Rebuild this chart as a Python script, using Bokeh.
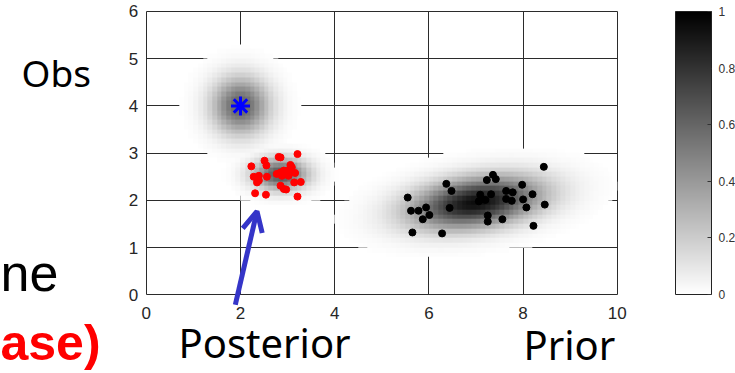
import numpy as np
from bokeh.plotting import figure
from bokeh.models import (LinearColorMapper, ColorBar, Label, Arrow, OpenHead,
                          FixedTicker, Range1d, LinearAxis, Grid)
from bokeh.palettes import Greys256
from bokeh.embed import file_html
from bokeh.resources import INLINE

# ---------------- data ----------------
x_ticks = [0, 2, 4, 6, 8, 10]
y_ticks = [0, 1, 2, 3, 4, 5, 6]
cbar_ticks = [0, 0.2, 0.4, 0.6, 0.8, 1]

obs_x = [2.0]
obs_y = [4.0]

post_x = [3.21, 2.23, 2.51, 2.55, 2.81, 2.85, 3.06, 3.09, 2.28, 2.39, 2.35, 2.56,
          2.77, 2.85, 2.92, 2.99, 3.02, 3.16, 3.14, 3.28, 2.85, 2.92, 2.97, 2.31,
          2.54, 3.21, 3.02, 2.39, 2.88]
post_y = [2.98, 2.72, 2.84, 2.74, 2.92, 2.91, 2.75, 2.70, 2.50, 2.52, 2.38, 2.50,
          2.56, 2.59, 2.63, 2.56, 2.52, 2.58, 2.38, 2.39, 2.31, 2.24, 2.23, 2.15,
          2.12, 2.08, 2.64, 2.42, 2.52]

prior_x = [8.44, 5.55, 5.62, 5.78, 5.87, 5.94, 6.01, 5.65, 6.28, 6.37, 6.48, 6.44,
           7.09, 7.06, 7.13, 7.20, 7.32, 7.23, 7.36, 7.42, 7.25, 7.25, 7.56, 7.64,
           7.64, 7.78, 7.76, 7.98, 8.00, 8.07, 8.20, 8.46, 8.22]
prior_y = [2.71, 2.06, 1.78, 1.78, 1.60, 1.85, 1.69, 1.32, 1.30, 2.35, 2.20, 1.84,
           2.12, 1.98, 2.03, 2.01, 2.13, 2.43, 2.54, 2.45, 1.68, 1.55, 1.60, 2.20,
           2.03, 2.17, 1.99, 2.33, 2.02, 1.85, 2.13, 1.91, 1.46]

# density blobs (obs, posterior, prior)
blob_cx = [2.0, 2.85, 7.0]
blob_cy = [4.0, 2.55, 1.95]
blob_sa = [0.42, 0.40, 0.95]
blob_sb = [0.42, 0.23, 0.355]
blob_ang = [0.0, 0.0, 8.0]
blob_peak = [0.62, 0.68, 0.95]
threshold = 0.0067

arrow_start = (1.89, -0.21)
arrow_end = (2.35, 1.77)

# ---------------- density image ----------------
step = 0.1
xs = (np.arange(100) + 0.5) * step
ys = (np.arange(60) + 0.5) * step
X, Y = np.meshgrid(xs, ys)
Z = np.zeros_like(X)
for cx, cy, sa, sb, ang, pk in zip(blob_cx, blob_cy, blob_sa, blob_sb, blob_ang, blob_peak):
    t = np.deg2rad(ang)
    dx, dy = X - cx, Y - cy
    u = dx * np.cos(t) + dy * np.sin(t)
    v = -dx * np.sin(t) + dy * np.cos(t)
    Z = np.maximum(Z, pk * np.exp(-0.5 * (u ** 2 / sa ** 2 + v ** 2 / sb ** 2)))
Z[Z < threshold] = np.nan

palette = list(reversed(Greys256))
mapper = LinearColorMapper(palette=palette, low=0, high=1, nan_color=(0, 0, 0, 0))

# ---------------- figure (frame covers the whole canvas) ----------------
W, H = 735, 373
x0_px, px_per_x = 145.8, 47.1
y0_px, px_per_y = 294.3, 47.22
p = figure(width=W, height=H,
           x_range=Range1d(-x0_px / px_per_x, (W - x0_px) / px_per_x),
           y_range=Range1d((y0_px - H) / px_per_y, y0_px / px_per_y),
           output_backend="svg", toolbar_location=None,
           x_axis_location=None, y_axis_location=None, min_border=0)
p.background_fill_color = "white"
p.border_fill_color = "white"
p.outline_line_color = None
p.grid.visible = False

# grid + box
grid_kw = dict(grid_line_color="#2b2b2b", grid_line_alpha=1, grid_line_width=1)
try:
    gx = Grid(dimension=0, ticker=FixedTicker(ticks=x_ticks), bounds=(0, 10),
              cross_bounds=(0, 6), **grid_kw)
    gy = Grid(dimension=1, ticker=FixedTicker(ticks=y_ticks), bounds=(0, 6),
              cross_bounds=(0, 10), **grid_kw)
    p.add_layout(gx)
    p.add_layout(gy)
except Exception:
    p.segment(x0=x_ticks, y0=[0] * len(x_ticks), x1=x_ticks, y1=[6] * len(x_ticks),
              line_color="#2b2b2b", line_width=1, level="underlay")
    p.segment(x0=[0] * len(y_ticks), y0=y_ticks, x1=[10] * len(y_ticks), y1=y_ticks,
              line_color="#2b2b2b", line_width=1, level="underlay")

# axes
xaxis = LinearAxis(fixed_location=0, bounds=(0, 10), ticker=FixedTicker(ticks=x_ticks))
yaxis = LinearAxis(fixed_location=0, bounds=(0, 6), ticker=FixedTicker(ticks=y_ticks))
for ax in (xaxis, yaxis):
    ax.axis_line_color = None
    ax.major_tick_line_color = None
    ax.minor_tick_line_color = None
    ax.major_tick_in = 0
    ax.major_tick_out = 0
    ax.minor_tick_in = 0
    ax.minor_tick_out = 0
    ax.major_label_text_font = "Liberation Sans"
    ax.major_label_text_font_size = "17px"
    ax.major_label_text_color = "#262626"
xaxis.major_label_standoff = 12
yaxis.major_label_standoff = 8
p.add_layout(xaxis, "below")
p.add_layout(yaxis, "left")

# density image and points
p.image(image=[Z], x=0, y=0, dw=10, dh=6, color_mapper=mapper)
p.scatter(prior_x, prior_y, size=7, color="black")
p.scatter(post_x, post_y, size=7, color="#ff0000")
p.scatter(obs_x, obs_y, marker="asterisk", size=19, line_color="#0000ff", line_width=3)

p.add_layout(Arrow(end=OpenHead(size=20, line_color="#3535c8", line_width=5),
                   x_start=arrow_start[0], y_start=arrow_start[1],
                   x_end=arrow_end[0], y_end=arrow_end[1],
                   line_color="#3535c8", line_width=5))

# ---------------- slide texts ----------------
def px_x(v):
    return (v - x0_px) / px_per_x

def px_y(v):
    return (y0_px - v) / px_per_y

def lab(x, y, text, size, color="black", font="Noto Sans", style="normal", k=0.42):
    # y: wanted baseline (pixels from top); k compensates the renderer's baseline shift
    p.add_layout(Label(x=px_x(x), y=px_y(y - k * size), text=text, text_font=font,
                       text_font_size=f"{size}px", text_color=color, text_align="left",
                       text_baseline="alphabetic", text_font_style=style))

lab(21, 88, "Obs", 37)
lab(0, 292, "ne", 52, font="Liberation Sans", k=0.38)
lab(0, 361, "ase)", 50, color="#ff0000", font="Liberation Sans", style="bold", k=0.38)
lab(178, 359, "Posterior", 40)
lab(523, 361, "Prior", 40)

# ---------------- colorbar ----------------
cb = ColorBar(color_mapper=mapper, ticker=FixedTicker(ticks=cbar_ticks),
              major_label_overrides={0: "0", 0.2: "0.2", 0.4: "0.4", 0.6: "0.6",
                                     0.8: "0.8", 1: "1"},
              width=36, height=283, padding=0, margin=0, location=(675, 79),
              bar_line_color="#222222", border_line_color=None,
              background_fill_color=None,
              major_label_text_font="Liberation Sans", major_label_text_font_size="12px",
              major_label_text_color="#333333",
              major_tick_line_color="#333333", major_tick_in=4, label_standoff=7)
p.add_layout(cb, "center")

open("out.html", "w").write(file_html(p, INLINE))
